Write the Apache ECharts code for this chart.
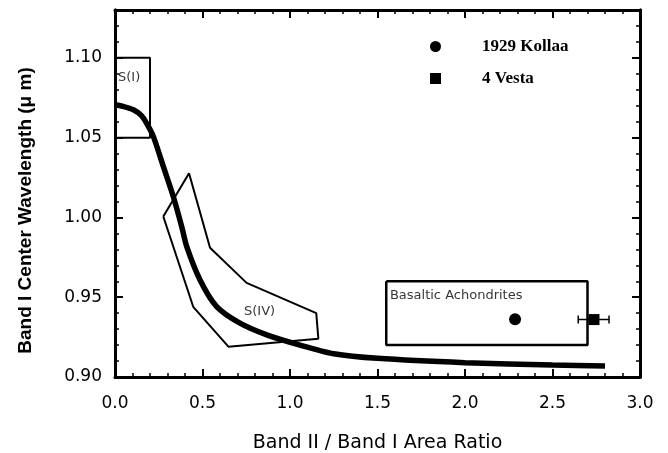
<!DOCTYPE html>
<html>
<head>
<meta charset="utf-8">
<script src="https://cdn.jsdelivr.net/npm/echarts@6/dist/echarts.min.js"></script>
<style>
  html, body { margin: 0; padding: 0; background: #fff; }
  #main { width: 668px; height: 453px; }
</style>
</head>
<body>
<div id="main"></div>
<script>
// trend curve (band area ratio vs band I centre)
const curveX = [0, 0.05, 0.105, 0.15, 0.181, 0.219, 0.276, 0.333, 0.381, 0.41, 0.486, 0.581, 0.714, 0.867, 1.057, 1.25, 1.5, 2.0, 2.5, 2.8];
const curveY = [1.0706, 1.0695, 1.0675, 1.064, 1.059, 1.0508, 1.032, 1.0131, 0.9943, 0.9817, 0.9608, 0.9441, 0.9337, 0.9264, 0.920, 0.9146, 0.9117, 0.909, 0.9075, 0.9069];

// S(I) region (left side is the axis)
const s1X = [0, 0.2, 0.2, 0];
const s1Y = [1.10, 1.10, 1.05, 1.05];

// S(IV) region
const s4X = [0.276, 0.423, 0.543, 0.752, 1.15, 1.162, 0.648, 0.447, 0.276];
const s4Y = [1.0006, 1.0277, 0.981, 0.959, 0.940, 0.924, 0.919, 0.944, 1.0006];

// basaltic achondrites box
const baX = [1.55, 2.7, 2.7, 1.55, 1.55];
const baY = [0.96, 0.96, 0.92, 0.92, 0.96];

// asteroids
const kollaa = [2.286, 0.9362];
const vesta = [2.737, 0.936];
const vestaErr = [2.647, 2.823];

// region labels
const labelNames = ['S(I)', 'S(IV)', 'Basaltic Achondrites'];
const labelX = [0.017, 0.737, 1.571];
const labelY = [1.0879, 0.9408, 0.9508];

const xTicks = { min: 0, max: 3, major: 0.5 };
const yTicks = { min: 0.9, max: 1.13, major: 0.05, minor: 0.01 };

const zip = (xs, ys) => xs.map((x, i) => [x, ys[i]]);

const chart = echarts.init(document.getElementById('main'));

const black = '#000';
const tickFont = 'DejaVu Sans';

function xAxisDef(pos) {
    return {
        type: 'value',
        position: pos,
        min: xTicks.min,
        max: xTicks.max,
        interval: xTicks.major,
        axisLine: { show: true, onZero: false, lineStyle: { color: black, width: 3 } },
        axisTick: { show: true, inside: true, length: 8, lineStyle: { color: black, width: 2 } },
        minorTick: { show: true, splitNumber: 5, length: 4, lineStyle: { color: black, width: 1.5 } },
        axisLabel: pos === 'bottom' ? {
            show: true, color: black, fontFamily: tickFont, fontSize: 17, margin: 18,
            formatter: v => v.toFixed(1)
        } : { show: false },
        splitLine: { show: false },
        minorSplitLine: { show: false }
    };
}

function yAxisDef(pos, step, len, withLabel) {
    return {
        type: 'value',
        position: pos,
        min: yTicks.min,
        max: yTicks.max,
        interval: step,
        axisLine: { show: true, onZero: false, lineStyle: { color: black, width: 3 } },
        axisTick: { show: true, inside: true, length: len, lineStyle: { color: black, width: len > 5 ? 2 : 1.5 } },
        axisLabel: withLabel ? {
            show: true, color: black, fontFamily: tickFont, fontSize: 17, margin: 13,
            showMaxLabel: false,
            formatter: v => v.toFixed(2)
        } : { show: false },
        splitLine: { show: false }
    };
}

const yMain = yAxisDef('left', yTicks.major, 8, true);
yMain.name = 'Band I Center Wavelength (\u03bc m)';
yMain.nameLocation = 'middle';
yMain.nameGap = 80;
yMain.nameTextStyle = { color: black, fontFamily: 'Liberation Sans', fontWeight: 'bold', fontSize: 19, padding: [0, 34, 0, 0] };

const xMain = xAxisDef('bottom');
xMain.name = 'Band II / Band I Area Ratio';
xMain.nameLocation = 'middle';
xMain.nameGap = 57;
xMain.nameTextStyle = { color: black, fontFamily: tickFont, fontSize: 19 };

const outline = (name, xs, ys, w) => ({
    name: name,
    type: 'line',
    data: zip(xs, ys),
    showSymbol: false,
    symbol: 'none',
    lineStyle: { color: black, width: w },
    silent: true,
    z: 3
});

chart.setOption({
    animation: false,
    backgroundColor: '#fff',
    grid: { left: 115, right: 28, top: 10, bottom: 76, containLabel: false, outerBoundsMode: 'none' },
    legend: {
        orient: 'vertical',
        left: 425,
        top: 33,
        itemWidth: 11,
        itemHeight: 11,
        itemGap: 15,
        data: ['1929 Kollaa', '4 Vesta'],
        textStyle: { color: black, fontFamily: 'Liberation Serif', fontWeight: 'bold', fontSize: 17, padding: [0, 0, 0, 36] }
    },
    xAxis: [xMain, xAxisDef('top')],
    yAxis: [
        yMain,
        yAxisDef('left', yTicks.minor, 4, false),
        yAxisDef('right', yTicks.major, 8, false),
        yAxisDef('right', yTicks.minor, 4, false)
    ],
    series: [
        outline('S(I)', s1X, s1Y, 2),
        outline('S(IV)', s4X, s4Y, 2),
        outline('Basaltic Achondrites', baX, baY, 2.5),
        {
            name: 'curve',
            type: 'line',
            data: zip(curveX, curveY),
            smooth: 0.25,
            showSymbol: false,
            symbol: 'none',
            lineStyle: { color: black, width: 5.5, cap: 'butt' },
            z: 4
        },
        {
            name: 'Vesta error',
            type: 'line',
            data: vestaErr.map(x => [x, vesta[1]]),
            symbol: 'rect',
            symbolSize: [1.5, 8],
            showSymbol: true,
            itemStyle: { color: black, opacity: 1 },
            lineStyle: { color: black, width: 1.5 },
            z: 5
        },
        {
            name: '1929 Kollaa',
            type: 'scatter',
            symbol: 'circle',
            symbolSize: 12,
            data: [kollaa],
            itemStyle: { color: black, opacity: 1 },
            z: 6
        },
        {
            name: '4 Vesta',
            type: 'scatter',
            symbol: 'rect',
            symbolSize: 11,
            data: [vesta],
            itemStyle: { color: black, opacity: 1 },
            z: 6
        },
        {
            name: 'labels',
            type: 'scatter',
            symbolSize: 0,
            silent: true,
            data: labelNames.map((n, i) => ({ name: n, value: [labelX[i], labelY[i]] })),
            label: {
                show: true,
                position: 'right',
                distance: 0,
                formatter: p => p.name,
                color: black,
                fontFamily: tickFont,
                fontSize: 13
            },
            z: 7
        }
    ]
});
</script>
</body>
</html>
